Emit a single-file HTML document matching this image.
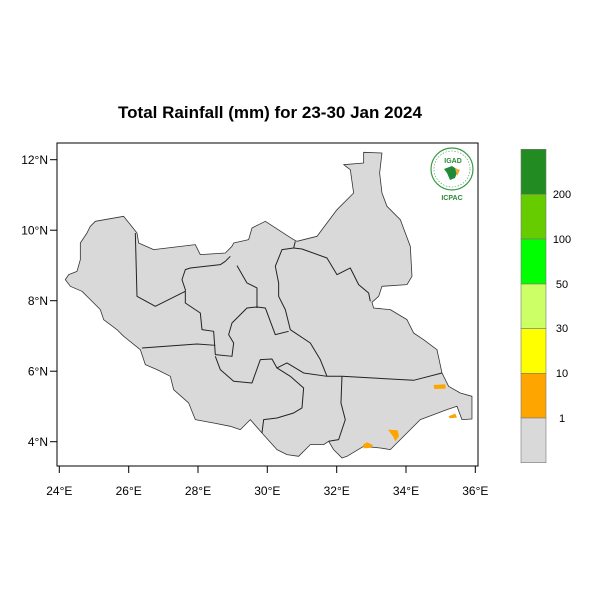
<!DOCTYPE html>
<html><head><meta charset="utf-8"><style>
body{margin:0;background:#fff}
svg{display:block;font-family:"Liberation Sans",sans-serif}
</style></head><body>
<svg width="600" height="600" viewBox="0 0 600 600">
<rect width="600" height="600" fill="#fff"/>
<text x="270" y="118" font-size="17" font-weight="bold" text-anchor="middle">Total Rainfall (mm) for 23-30 Jan 2024</text>
<g transform="translate(57,143) scale(0.3333)">
<polygon fill="#d9d9d9" stroke="#333" stroke-width="2.4" stroke-linejoin="round" points="920,28 975,30 968,90 975,150 990,190 1030,230 1060,310 1065,400 1050,425 975,430 965,460 945,478 950,495 1000,500 1050,530 1070,570 1100,590 1140,620 1155,690 1175,730 1210,750 1245,760 1245,828 1215,830 1200,790 1170,800 1090,830 1060,860 1000,920 970,915 920,910 870,940 855,945 830,920 815,895 800,905 760,905 725,940 690,935 660,920 615,870 580,830 550,860 520,850 470,840 415,830 395,780 350,740 340,700 300,680 265,665 250,620 200,580 180,560 140,530 130,500 100,470 75,445 40,430 25,410 35,395 60,385 70,350 70,300 90,270 100,250 115,235 200,220 240,270 245,300 290,320 415,305 430,335 505,330 525,310 530,300 575,290 585,255 625,235 710,290 720,295 780,280 840,200 890,150 880,80 860,65 920,60"/>
<g fill="none" stroke="#222" stroke-width="3" stroke-linejoin="round">
<polyline points="235,270 240,460 295,490 385,445"/>
<polyline points="520,340 505,355 490,365 400,375 385,380 375,410 385,440 385,480 430,510 435,560 470,565 475,635 525,640 530,600 515,575 525,540 570,495 600,492 625,495 655,575 695,565"/>
<polyline points="540,368 570,420 600,435 600,495"/>
<polyline points="715,295 710,315 675,320 655,370 665,420 665,460 685,500 700,560 760,600 790,650 810,700"/>
<polyline points="710,315 735,318 810,345 840,395 880,375 905,425 935,450 940,475"/>
<polyline points="255,615 420,603 475,607"/>
<polyline points="475,640 490,680 530,715 585,720 610,650 645,648 660,675 690,660 740,690 810,700 855,700 1070,712 1155,690"/>
<polyline points="660,675 700,700 740,735 735,795 710,810 660,825 620,830 615,870"/>
<polyline points="855,700 852,780 865,830 845,890 815,895"/>
</g>
<g fill="#ffa500">
<path d="M1130,726 L1165,724 L1166,737 L1132,738 Z"/>
<path d="M993,860 L1022,862 L1026,880 L1015,895 L1008,880 Z"/>
<path d="M918,905 L930,898 L948,906 L940,915 L920,916 Z"/>
<path d="M1175,820 L1195,812 L1200,824 L1178,826 Z"/>
</g>
</g>
<g>
<circle cx="452" cy="169" r="21" fill="#fff" stroke="#3a9a4a" stroke-width="1.2"/>
<circle cx="452" cy="169" r="18" fill="none" stroke="#3a9a4a" stroke-width="0.6" stroke-dasharray="1.5 1.5"/>
<text x="453" y="163" font-size="7" font-weight="bold" fill="#2a8a3a" text-anchor="middle">IGAD</text>
<path d="M444,169 L452,166 L458,170 L455,178 L450,180 L447,173 Z" fill="#1f8a3a"/>
<path d="M455,168 L460,170 L457,176 Z" fill="#f0a830"/>
<text x="452" y="200" font-size="7" font-weight="bold" fill="#2a8a3a" text-anchor="middle">ICPAC</text>
</g>
<rect x="57" y="143" width="421" height="323" fill="none" stroke="#000" stroke-width="1"/>
<g stroke="#000" stroke-width="1">
<line x1="59.3" y1="466" x2="59.3" y2="473"/><line x1="128.7" y1="466" x2="128.7" y2="473"/><line x1="198" y1="466" x2="198" y2="473"/><line x1="267.3" y1="466" x2="267.3" y2="473"/><line x1="336.7" y1="466" x2="336.7" y2="473"/><line x1="406" y1="466" x2="406" y2="473"/><line x1="475.3" y1="466" x2="475.3" y2="473"/>
<line x1="50" y1="441.7" x2="57" y2="441.7"/><line x1="50" y1="371.2" x2="57" y2="371.2"/><line x1="50" y1="300.7" x2="57" y2="300.7"/><line x1="50" y1="230.2" x2="57" y2="230.2"/><line x1="50" y1="159.7" x2="57" y2="159.7"/>
</g>
<g font-size="12" text-anchor="middle">
<text x="59.3" y="495">24°E</text><text x="128.7" y="495">26°E</text><text x="198" y="495">28°E</text><text x="267.3" y="495">30°E</text><text x="336.7" y="495">32°E</text><text x="406" y="495">34°E</text><text x="475.3" y="495">36°E</text>
</g>
<g font-size="12" text-anchor="end">
<text x="48" y="446">4°N</text><text x="48" y="375.5">6°N</text><text x="48" y="305">8°N</text><text x="48" y="234.5">10°N</text><text x="48" y="164">12°N</text>
</g>
<g stroke="#777" stroke-width="0.6">
<rect x="521" y="149.3" width="25" height="45" fill="#228b22"/>
<rect x="521" y="194.3" width="25" height="44.7" fill="#66cc00"/>
<rect x="521" y="239" width="25" height="45" fill="#00ff00"/>
<rect x="521" y="284" width="25" height="44.7" fill="#ccff66"/>
<rect x="521" y="328.7" width="25" height="44.6" fill="#ffff00"/>
<rect x="521" y="373.3" width="25" height="44.7" fill="#ffa500"/>
<rect x="521" y="418" width="25" height="44.7" fill="#d9d9d9"/>
</g>
<g font-size="11" text-anchor="middle">
<text x="562" y="198">200</text><text x="562" y="243">100</text><text x="562" y="288">50</text><text x="562" y="332">30</text><text x="562" y="377">10</text><text x="562" y="422">1</text>
</g>
</svg>
</body></html>
